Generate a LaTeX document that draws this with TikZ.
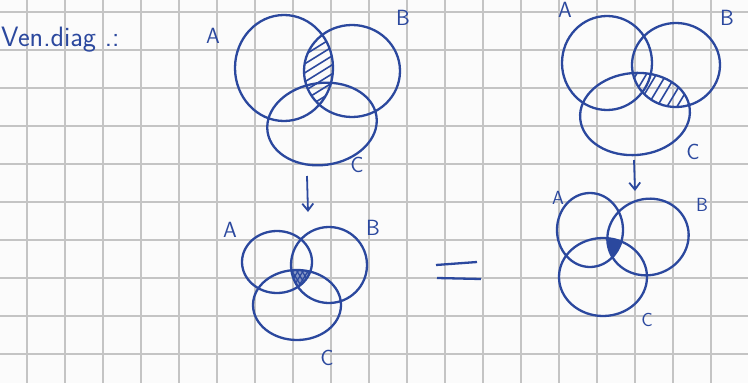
\documentclass[tikz,border=0pt]{standalone}
\usepackage{tikz}
\usetikzlibrary{arrows.meta,positioning}
\definecolor{tinta}{RGB}{43,72,158}
\definecolor{papel}{RGB}{251,251,251}
\definecolor{cuadro}{RGB}{196,196,196}

\begin{document}
\begin{tikzpicture}[x=1pt,y=-1pt,
ink/.style={draw=tinta,line width=2.3pt},
hatch/.style={draw=tinta,line width=1.6pt},
lbl/.style={text=tinta,font=\sffamily\fontsize{22}{22}\selectfont,inner sep=0pt},
arr/.style={draw=tinta,line width=1.8pt,-{Straight Barb[length=7pt,width=11pt]}},
gridline/.style={draw=cuadro,line width=1.4pt}
]
\useasboundingbox[fill=papel] (0,0) rectangle (748,383);
% squared paper
\foreach \gx in {27,65,...,748} \draw[gridline] (\gx,0) -- (\gx,383);
\foreach \gy in {12,50,...,383} \draw[gridline] (0,\gy) -- (748,\gy);

\node[lbl,anchor=west,font=\sffamily\fontsize{28}{28}\selectfont] (title) at (1,40) {Ven.diag .:};

% first diagram: A and B
\coordinate (a1) at (284,68);
\coordinate (b1) at (352,71);
\coordinate (c1) at (322,124);
\begin{scope}
\clip (a1) ellipse [x radius=49,y radius=53];
\clip (b1) ellipse [x radius=48,y radius=46];
\foreach \k in {0,...,11} \draw[hatch] (290,145-9*\k) -- ++(50,-31);
\end{scope}
\draw[ink] (a1) ellipse [x radius=49,y radius=53];
\draw[ink] (b1) ellipse [x radius=48,y radius=46];
\draw[ink] (c1) ellipse [x radius=55,y radius=41,rotate=8];
\node[lbl] (la1) at (213,36) {A};
\node[lbl] (lb1) at (403,18) {B};
\node[lbl] (lc1) at (357,165) {C};

% second diagram: B and C
\coordinate (a2) at (607,63);
\coordinate (b2) at (676,65);
\coordinate (c2) at (635,114);
\begin{scope}
\clip (b2) ellipse [x radius=44,y radius=42];
\clip (c2) ellipse [x radius=55,y radius=41,rotate=5];
\foreach \k in {0,...,9} \draw[hatch] (612+10*\k,115) -- ++(27,-45);
\end{scope}
\draw[ink] (a2) ellipse [x radius=45,y radius=47];
\draw[ink] (b2) ellipse [x radius=44,y radius=42];
\draw[ink] (c2) ellipse [x radius=55,y radius=41,rotate=5];
\node[lbl] (la2) at (565,10) {A};
\node[lbl] (lb2) at (727,18) {B};
\node[lbl] (lc2) at (693,152) {C};

% arrows down
\coordinate (t1) at (307,176);
\coordinate (d1) at (308,212);
\coordinate (t2) at (634,160);
\coordinate (d2) at (635,191);
\draw[arr] (t1) -- (d1);
\draw[arr] (t2) -- (d2);

% third diagram
\coordinate (a3) at (277,262);
\coordinate (b3) at (329,265);
\coordinate (c3) at (297,305);
\begin{scope}
\clip (a3) ellipse [x radius=35,y radius=31];
\clip (b3) ellipse [x radius=38,y radius=38];
\clip (c3) ellipse [x radius=44,y radius=35];
\fill[tinta,opacity=.55] (280,260) rectangle (320,300);
\foreach \k in {0,...,10} \draw[hatch,line width=1.2pt] (270+5*\k,300) -- ++(25,-40);
\foreach \k in {0,...,10} \draw[hatch,line width=1.2pt] (270+5*\k,260) -- ++(25,40);
\end{scope}
\draw[ink] (a3) ellipse [x radius=35,y radius=31];
\draw[ink] (b3) ellipse [x radius=38,y radius=38];
\draw[ink] (c3) ellipse [x radius=44,y radius=35];
\node[lbl] (la3) at (230,230) {A};
\node[lbl] (lb3) at (373,228) {B};
\node[lbl] (lc3) at (327,358) {C};

% equals
\coordinate (e1) at (436,265);
\coordinate (e2) at (477,262);
\coordinate (e3) at (437,278);
\coordinate (e4) at (481,279);
\draw[ink] (e1) -- (e2);
\draw[ink] (e3) -- (e4);

% fourth diagram
\coordinate (a4) at (590,230);
\coordinate (b4) at (648,237);
\coordinate (c4) at (603,277);
\begin{scope}
\clip (a4) ellipse [x radius=33,y radius=37];
\clip (b4) ellipse [x radius=41,y radius=38,rotate=20];
\clip (c4) ellipse [x radius=44,y radius=39];
\fill[tinta] (590,220) rectangle (640,280);
\end{scope}
\draw[ink] (a4) ellipse [x radius=33,y radius=37];
\draw[ink] (b4) ellipse [x radius=41,y radius=38,rotate=20];
\draw[ink] (c4) ellipse [x radius=44,y radius=39];
\node[lbl,font=\sffamily\fontsize{19}{19}\selectfont] (la4) at (558,198) {A};
\node[lbl,font=\sffamily\fontsize{19}{19}\selectfont] (lb4) at (702,205) {B};
\node[lbl,font=\sffamily\fontsize{19}{19}\selectfont] (lc4) at (647,320) {C};
\end{tikzpicture}
\end{document}
